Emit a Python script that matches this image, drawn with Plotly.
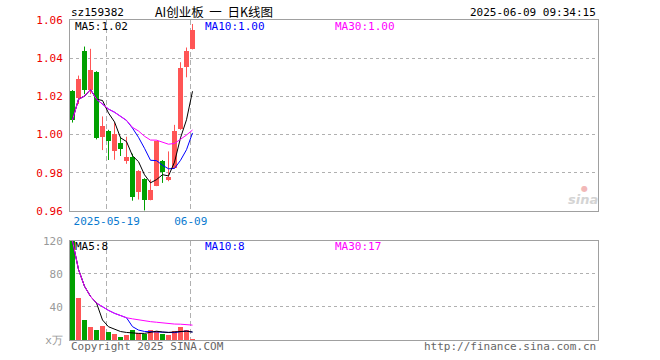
import plotly.graph_objects as go
import pandas as pd

# ---------------- data ----------------
dates = ["2025-05-09", "2025-05-12", "2025-05-13", "2025-05-14", "2025-05-15",
         "2025-05-16", "2025-05-19", "2025-05-20", "2025-05-21", "2025-05-22",
         "2025-05-23", "2025-05-26", "2025-05-27", "2025-05-28", "2025-05-29",
         "2025-05-30", "2025-06-03", "2025-06-04", "2025-06-05", "2025-06-06",
         "2025-06-09"]
opens = [1.0230, 1.0193, 1.0437, 1.0235, 1.0326, 0.9989, 1.0021, 0.9912, 0.9954, 0.9860,
         0.9882, 0.9702, 0.9768, 0.9660, 0.9732, 0.9860, 0.9760, 0.9825, 1.0028, 1.0356, 1.0449]
highs = [1.0233, 1.0309, 1.0461, 1.0449, 1.0332, 1.0095, 1.0025, 1.0063, 0.9988, 0.9989,
         0.9900, 0.9814, 0.9772, 0.9765, 0.9968, 0.9867, 0.9912, 1.0051, 1.0379, 1.0456, 1.0579]
lows = [1.0063, 1.0160, 1.0212, 1.0212, 0.9975, 0.9919, 0.9867, 0.9868, 0.9888, 0.9847,
        0.9654, 0.9660, 0.9603, 0.9656, 0.9730, 0.9747, 0.9756, 0.9823, 1.0025, 1.0300, 1.0446]
closes = [1.0077, 1.0293, 1.0235, 1.0339, 0.9982, 1.0044, 0.9965, 1.0003, 0.9923, 0.9882,
          0.9672, 0.9812, 0.9660, 0.9712, 0.9965, 0.9802, 0.9779, 1.0021, 1.0347, 1.0439, 1.0549]
volumes = [119.6, 50.8, 24.4, 16.0, 12.4, 17.2, 10.0, 7.6, 4.0, 6.8,
           12.4, 9.2, 7.6, 12.4, 11.6, 7.6, 6.4, 10.8, 16.0, 12.8, 2.0]

price_ticks = [0.96, 0.98, 1.00, 1.02, 1.04, 1.06]
vol_ticks = [0, 40, 80, 120]
vol_tick_text = ["x万", "40", "80", "120"]
date_ticks = ["2025-05-19", "2025-06-09"]
date_tick_text = ["2025-05-19", "06-09"]
vol_ma_text = ["MA5:8", "MA10:8", "MA30:17"]

code = "sz159382"
title = "AI创业板&nbsp;&nbsp;一&nbsp;&nbsp;日K线图"
stamp = "2025-06-09 09:34:15"

# ---------------- derived ----------------
n = len(dates)
xs = list(range(n))
cs = pd.Series(closes)
vs = pd.Series(volumes)
ma = {w: cs.rolling(w, min_periods=1).mean().tolist() for w in (5, 10, 30)}
vma = {w: vs.rolling(w, min_periods=1).mean().tolist() for w in (5, 10, 30)}
up = [c >= o for o, c in zip(opens, closes)]

RED = "#ff5555"
GREEN = "#00a000"
MONO = "DejaVu Sans Mono, Liberation Mono, monospace"
MA_COL = {5: "#000000", 10: "#0000ff", 30: "#ff00ff"}

# layout geometry (pixels)
W, H = 660, 360
L, R, T, B = 70, 598, 20, 340


def px(x):
    return (x - L) / (R - L)


def py(y):
    return (B - y) / (B - T)


fig = go.Figure()

# wicks
for flag, col in ((True, RED), (False, GREEN)):
    wx, wy = [], []
    for i in xs:
        if up[i] == flag:
            wx += [i, i, None]
            wy += [lows[i], highs[i], None]
    fig.add_trace(go.Scatter(x=wx, y=wy, mode="lines", line=dict(color=col, width=1),
                             xaxis="x", yaxis="y", hoverinfo="skip", showlegend=False))

# bodies
for flag, col in ((True, RED), (False, GREEN)):
    idx = [i for i in xs if up[i] == flag]
    fig.add_trace(go.Bar(x=idx,
                         base=[min(opens[i], closes[i]) for i in idx],
                         y=[abs(closes[i] - opens[i]) for i in idx],
                         width=0.78, marker=dict(color=col, line=dict(width=0)),
                         xaxis="x", yaxis="y", showlegend=False))

# volume bars
for flag, col in ((True, RED), (False, GREEN)):
    idx = [i for i in xs if up[i] == flag]
    fig.add_trace(go.Bar(x=idx, y=[volumes[i] for i in idx], width=0.78,
                         marker=dict(color=col, line=dict(width=0)),
                         xaxis="x2", yaxis="y2", showlegend=False))

# moving averages (draw order: 10, 5, 30)
for w in (10, 5, 30):
    fig.add_trace(go.Scatter(x=xs, y=ma[w], mode="lines",
                             line=dict(color=MA_COL[w], width=1),
                             xaxis="x", yaxis="y", showlegend=False, hoverinfo="skip"))
    fig.add_trace(go.Scatter(x=xs, y=vma[w], mode="lines",
                             line=dict(color=MA_COL[w], width=1),
                             xaxis="x2", yaxis="y2", showlegend=False, hoverinfo="skip"))

xrange = [-2.5 / 6, (R - L - 2.5) / 6]
tick_pos = [dates.index(d) - 0.3 for d in date_ticks]

axis_common = dict(showline=True, mirror=True, linecolor="#a0a0a0", linewidth=1,
                   zeroline=False, ticks="", fixedrange=True)

fig.update_layout(
    width=W, height=H,
    margin=dict(l=L, r=W - R, t=T, b=H - B, pad=0),
    paper_bgcolor="white", plot_bgcolor="white",
    barmode="overlay", bargap=0,
    showlegend=False,
    font=dict(family=MONO, size=10, color="#000"),
    xaxis=dict(domain=[0, 1], range=xrange, anchor="y",
               tickvals=tick_pos, ticktext=date_tick_text,
               tickfont=dict(family=MONO, size=11, color="#0a7ad0"),
               showgrid=True, gridcolor="#b0b0b0", griddash="5px,3px", gridwidth=1,
               **axis_common),
    yaxis=dict(domain=[py(211), 1], range=[0.96, 1.06], anchor="x",
               tickvals=price_ticks, ticktext=[f"{v:.2f}" for v in price_ticks],
               tickfont=dict(family=MONO, size=11, color="#ee0000"),
               showgrid=True, gridcolor="#b0b0b0", griddash="dot", gridwidth=1,
               ticklabelstandoff=4,
               **axis_common),
    xaxis2=dict(domain=[0, 1], range=xrange, anchor="y2", matches="x",
                tickvals=tick_pos, showticklabels=False,
                showgrid=True, gridcolor="#b0b0b0", griddash="5px,3px", gridwidth=1,
                **axis_common),
    yaxis2=dict(domain=[0, py(240.7)], range=[0, 120], anchor="x2",
                tickvals=vol_ticks, ticktext=vol_tick_text,
                tickfont=dict(family=MONO, size=11, color="#999999"),
                showgrid=True, gridcolor="#b0b0b0", griddash="dot", gridwidth=1,
                ticklabelstandoff=4,
                **axis_common),
)


def note(text, x, y, xanchor="left", color="#000", size=10, family=MONO, **kw):
    fig.add_annotation(text=text, x=px(x), y=py(y), xref="paper", yref="paper",
                       xanchor=xanchor, yanchor="middle", showarrow=False,
                       font=dict(family=family, size=size, color=color), **kw)


# header
note(code, 69, 12.5, size=11)
note(title, 214, 11, xanchor="center", size=12.5, family="Noto Sans CJK SC")
note(stamp, 598, 12.5, xanchor="right", size=11)

# price MA labels
note(f"MA5:{ma[5][-1]:.2f}", 73, 27, color=MA_COL[5], size=11)
note(f"MA10:{ma[10][-1]:.2f}", 203, 27, color=MA_COL[10], size=11)
note(f"MA30:{ma[30][-1]:.2f}", 333, 27, color=MA_COL[30], size=11)

# volume MA labels
note(vol_ma_text[0], 73, 246, color=MA_COL[5], size=11)
note(vol_ma_text[1], 203, 246, color=MA_COL[10], size=11)
note(vol_ma_text[2], 333, 246, color=MA_COL[30], size=11)

# footer
note("Copyright 2025 SINA.COM", 69, 346.5, color="#666666", size=11)
note("http://finance.sina.com.cn", 598, 346.5, xanchor="right", color="#666666", size=11)

# watermark
fig.add_annotation(text="<b><i>sina</i></b>", x=px(583), y=py(199), xref="paper", yref="paper",
                   xanchor="center", yanchor="middle", showarrow=False,
                   font=dict(family="DejaVu Sans", size=13, color="#d4d4d4"))
fig.add_annotation(text="●", x=px(584), y=py(188), xref="paper", yref="paper",
                   xanchor="center", yanchor="middle", showarrow=False,
                   font=dict(family="DejaVu Sans", size=8, color="#f2b8b8"))

fig.write_html("out.html", config={"displayModeBar": False},
               post_script="document.body.style.margin='0';document.body.style.padding='0';")
